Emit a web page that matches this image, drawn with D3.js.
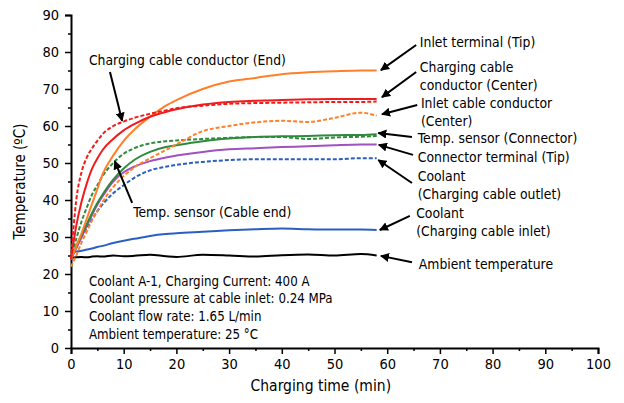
<!DOCTYPE html>
<html>
<head>
<meta charset="utf-8">
<script src="https://cdn.jsdelivr.net/npm/d3@7"></script>
<style>
  body { margin: 0; background: #fff; }
  text { font-family: Tahoma, 'DejaVu Sans Condensed', sans-serif; fill: #000; }
</style>
</head>
<body>
<svg id="chart"></svg>
<script>
// sample times (min)
var minutes = [0, 1, 2, 3, 4, 5, 6, 8, 10, 12, 15, 18, 20, 25, 30, 35, 40, 45, 50, 55, 58];

// temperatures (degC) at each sample time
var inletTerminalTip = [24, 27.5, 31, 35, 39, 43, 47, 52, 56, 59, 62.5, 65.5, 67, 70, 72, 73, 74, 74.5, 74.8, 75, 75];
var cableConductorCenter = [24, 33, 39.5, 44.5, 48.5, 51.2, 53.5, 56.5, 58.8, 60.5, 62.5, 63.8, 64.5, 65.8, 66.5, 66.8, 67, 67.2, 67.3, 67.3, 67.3];
var cableConductorEnd = [24, 40, 47.5, 51.5, 54, 56, 57.8, 60, 61.2, 62.2, 63.3, 64.2, 64.8, 65.5, 66, 66.2, 66.3, 66.4, 66.5, 66.5, 66.6];
var inletCableConductorCenter = [22, 25, 28.5, 31.5, 34.5, 37, 39.5, 43.5, 46.5, 48.8, 51.3, 53.5, 55, 58.6, 60, 61, 61.4, 61.1, 62.2, 63.6, 62.8];
var tempSensorConnector = [24, 27.5, 30.5, 33.5, 36.5, 39.2, 41.5, 45.5, 48.5, 50.8, 53, 54.3, 54.8, 55.9, 56.6, 57, 57.2, 57.3, 57.5, 57.6, 57.8];
var tempSensorCableEnd = [24, 29.5, 34.2, 38, 41.5, 44, 46.5, 50, 52.5, 54, 55.3, 55.9, 56.1, 56.5, 56.8, 57, 57, 56.5, 56.9, 57.1, 57.3];
var connectorTerminalTip = [24, 27, 30, 33, 36, 38.7, 41, 45, 47.5, 49, 50.5, 51.5, 52, 53, 53.7, 54, 54.3, 54.5, 54.8, 55, 55];
var coolantOutlet = [24, 27, 30, 32.5, 34.8, 37, 38.8, 41.8, 44, 46, 48, 49, 49.5, 50.3, 50.8, 51, 51, 51, 51, 51.3, 51.3];
var coolantInlet = [26, 26.1, 26.3, 26.6, 26.9, 27.3, 27.6, 28.4, 29, 29.5, 30.3, 30.8, 31, 31.4, 31.8, 32.1, 32.3, 32.1, 32, 32, 31.9];
var ambient = [24.3, 24.5, 24.6, 24.5, 24.7, 24.8, 24.7, 25, 24.8, 24.9, 25.2, 24.8, 24.6, 25.2, 25, 24.7, 25.1, 25.3, 25, 25.4, 25];

var xTicks = [0, 10, 20, 30, 40, 50, 60, 70, 80, 90, 100];
var yTicks = [0, 10, 20, 30, 40, 50, 60, 70, 80, 90];

var infoLines = [
    'Coolant A-1, Charging Current: 400 A',
    'Coolant pressure at cable inlet: 0.24 MPa',
    'Coolant flow rate: 1.65 L/min',
    'Ambient temperature: 25 °C'
];

var series = [
    { values: coolantInlet, color: '#2a5fc0', dash: null },
    { values: ambient, color: '#000', dash: null },
    { values: coolantOutlet, color: '#2a5fc0', dash: '4,2' },
    { values: connectorTerminalTip, color: '#a24fc2', dash: null },
    { values: tempSensorConnector, color: '#2f8a3c', dash: null },
    { values: tempSensorCableEnd, color: '#2f8a3c', dash: '4,2' },
    { values: inletCableConductorCenter, color: '#ff7f2a', dash: '4,2' },
    { values: inletTerminalTip, color: '#ff7f2a', dash: null },
    { values: cableConductorCenter, color: '#f01c1c', dash: null },
    { values: cableConductorEnd, color: '#f01c1c', dash: '4,2' }
];

// labels: text lines, text anchor point and arrow (all in data units)
var labels = [
    { lines: ['Inlet terminal (Tip)'], at: [66.2, 82.7], from: [65.5, 81.9], to: [58.8, 75.1] },
    { lines: ['Charging cable', 'conductor (Center)'], at: [66.2, 75.9], from: [65.5, 74.6], to: [59, 67.8] },
    { lines: ['Inlet cable conductor', '(Center)'], at: [66.4, 66.2], from: [65.7, 65.7], to: [59, 63.2] },
    { lines: ['Temp. sensor (Connector)'], at: [65.8, 56.8], from: [64.7, 57], to: [58.3, 58.1] },
    { lines: ['Connector terminal (Tip)'], at: [65.8, 51.6], from: [64.9, 52.2], to: [58.4, 54.9] },
    { lines: ['Coolant', '(Charging cable outlet)'], at: [65.8, 46.5], from: [64.7, 44.6], to: [58.3, 50.8] },
    { lines: ['Coolant', '(Charging cable inlet)'], at: [65.5, 36.5], from: [64.3, 35.7], to: [58.6, 31.9] },
    { lines: ['Ambient temperature'], at: [66, 22.7], from: [64.7, 23.2], to: [58.8, 24.9] },
    { lines: ['Charging cable conductor (End)'], at: [3.4, 77.8], from: [7.4, 74.6], to: [9.7, 61.4] },
    { lines: ['Temp. sensor (Cable end)'], at: [11.8, 36.8], from: [11.6, 39.2], to: [8.3, 50.5] }
];

var W = 624, H = 403;
var margin = { left: 71, right: 26, top: 15, bottom: 55 };

var svg = d3.select('#chart').attr('width', W).attr('height', H);

var x = d3.scaleLinear().domain([0, 100]).range([margin.left, W - margin.right]);
var y = d3.scaleLinear().domain([0, 90]).range([H - margin.bottom, margin.top]);

svg.append('defs').append('marker')
    .attr('id', 'arrow')
    .attr('viewBox', '0 0 10 10')
    .attr('refX', 9).attr('refY', 5)
    .attr('markerWidth', 4.5).attr('markerHeight', 4.5)
    .attr('markerUnits', 'strokeWidth')
    .attr('orient', 'auto')
    .append('path').attr('d', 'M0,0L10,5L0,10z').attr('fill', '#000');

// minor ticks
var xMinor = d3.range(5, 100, 10);
var yMinor = d3.range(5, 90, 10);

svg.append('g')
    .attr('transform', 'translate(0,' + y(0) + ')')
    .call(d3.axisBottom(x).tickValues(xTicks).tickSize(6).tickPadding(5));
svg.append('g')
    .attr('transform', 'translate(0,' + y(0) + ')')
    .call(d3.axisBottom(x).tickValues(xMinor).tickSize(3).tickFormat(''))
    .select('.domain').remove();

svg.append('g')
    .attr('transform', 'translate(' + x(0) + ',0)')
    .call(d3.axisLeft(y).tickValues(yTicks).tickSize(6).tickPadding(6));
svg.append('g')
    .attr('transform', 'translate(' + x(0) + ',0)')
    .call(d3.axisLeft(y).tickValues(yMinor).tickSize(3).tickFormat(''))
    .select('.domain').remove();

svg.selectAll('.domain').attr('stroke-width', 2).attr('d', function () {
    return d3.select(this).attr('d').replace(/[MV]-?6,/, function (m) { return m[0] + '0,'; });
});
svg.selectAll('.tick line').attr('stroke-width', 1.5);
svg.selectAll('.tick text').style('font-size', '14.5px');

svg.append('text')
    .attr('x', x(47.4)).attr('y', H - 12)
    .attr('text-anchor', 'middle')
    .style('font-size', '15.5px')
    .text('Charging time (min)');

svg.append('text')
    .attr('transform', 'translate(25,' + y(45) + ') rotate(-90)')
    .attr('text-anchor', 'middle')
    .style('font-size', '15px')
    .text('Temperature (ºC)');

var line = d3.line()
    .x(function (d, i) { return x(minutes[i]); })
    .y(function (d) { return y(d); })
    .curve(d3.curveMonotoneX);

svg.append('g').selectAll('path.series')
    .data(series)
    .enter().append('path')
    .attr('class', 'series')
    .attr('fill', 'none')
    .attr('stroke', function (d) { return d.color; })
    .attr('stroke-width', 2)
    .attr('stroke-dasharray', function (d) { return d.dash; })
    .attr('d', function (d) { return line(d.values); });

// annotations
var ann = svg.append('g');
labels.forEach(function (l) {
    ann.append('line')
        .attr('x1', x(l.from[0])).attr('y1', y(l.from[1]))
        .attr('x2', x(l.to[0])).attr('y2', y(l.to[1]))
        .attr('stroke', '#000').attr('stroke-width', 2)
        .attr('marker-end', 'url(#arrow)');
    l.lines.forEach(function (t, i) {
        ann.append('text')
            .attr('x', x(l.at[0]))
            .attr('y', y(l.at[1]) + i * 18)
            .attr('dy', '0.35em')
            .style('font-size', '13.8px')
            .text(t);
    });
});

svg.append('g').selectAll('text')
    .data(infoLines)
    .enter().append('text')
    .attr('x', x(3.4))
    .attr('y', function (d, i) { return y(18.1) + i * 17.7; })
    .attr('dy', '0.35em')
    .style('font-size', '13.2px')
    .text(function (d) { return d; });
</script>
</body>
</html>
